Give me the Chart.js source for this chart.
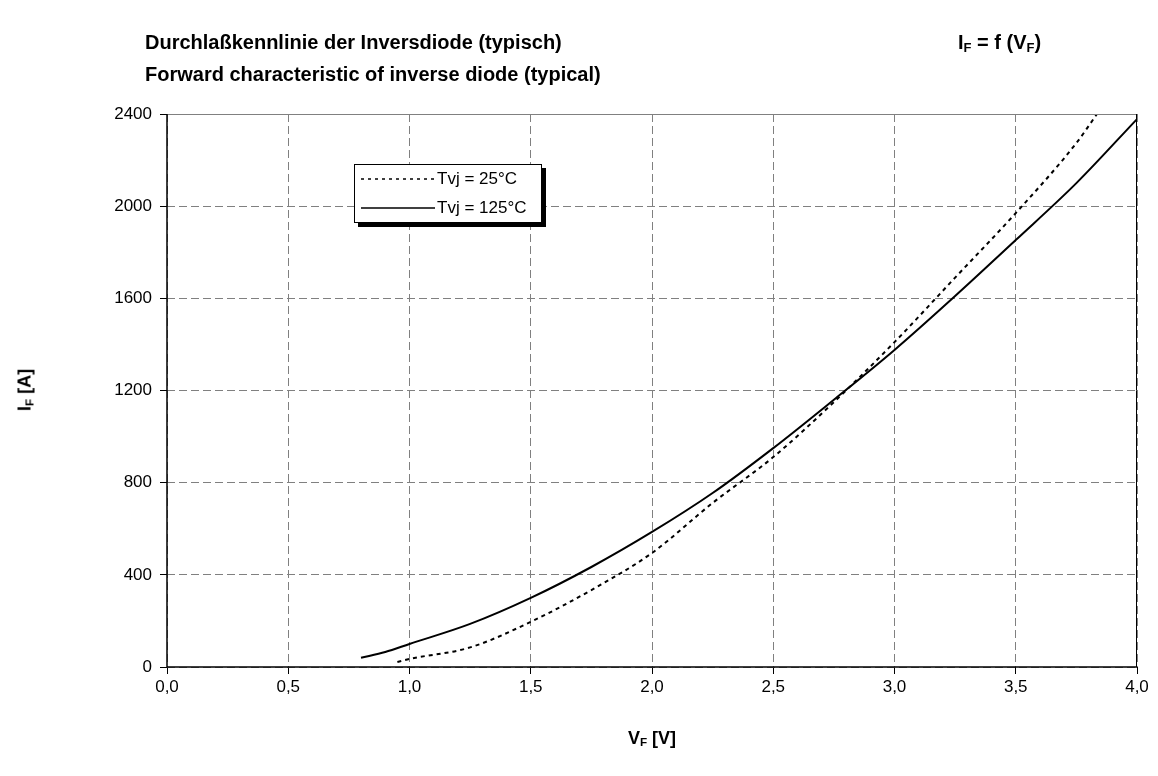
<!DOCTYPE html>
<html>
<head>
<meta charset="utf-8">
<script src="https://cdn.jsdelivr.net/npm/chart.js@4"></script>
<style>
  html, body { margin:0; padding:0; background:#fff; }
  #wrap { position:relative; width:1158px; height:776px; font-family:"Liberation Sans", Arial, sans-serif; }
  canvas { position:absolute; left:0; top:0; }
  .t { position:absolute; font-weight:bold; color:#000; white-space:nowrap; }
  sub { font-size:65%; vertical-align:-0.25em; line-height:0; }
  #legend { position:absolute; left:354px; top:164px; width:186px; height:57px; border:1px solid #000; background:#fff; box-shadow:4px 4px 0 #000; font-size:17px; }
  .row { position:absolute; left:6px; height:20px; display:flex; align-items:center; }
  .row svg { margin-right:2px; }
</style>
</head>
<body>
<div id="wrap">
  <canvas id="c" width="1158" height="776"></canvas>
  <div class="t" style="left:145px;top:31px;font-size:20px;">Durchlaßkennlinie der Inversdiode (typisch)</div>
  <div class="t" style="left:145px;top:63px;font-size:20px;">Forward characteristic of inverse diode (typical)</div>
  <div class="t" style="left:958px;top:31px;font-size:20px;">I<sub>F</sub> = f (V<sub>F</sub>)</div>
  <div class="t" style="left:25px;top:390px;font-size:18px;transform:translate(-50%,-50%) rotate(-90deg);">I<sub>F</sub> [A]</div>
  <div class="t" style="left:652px;top:738px;font-size:18px;transform:translate(-50%,-50%);">V<sub>F</sub> [V]</div>
  <div id="legend">
    <div class="row" style="top:4px;"><svg width="74" height="6"><line x1="0" y1="3" x2="74" y2="3" stroke="#000" stroke-width="1.5" stroke-dasharray="3,4"/></svg><span>Tvj = 25°C</span></div>
    <div class="row" style="top:33px;"><svg width="74" height="6"><line x1="0" y1="3" x2="74" y2="3" stroke="#000" stroke-width="1.5"/></svg><span>Tvj = 125°C</span></div>
  </div>
</div>
<script>
// Data
const v25 = [0.95, 1.0, 1.25, 1.5, 1.75, 2.0, 2.25, 2.5, 2.75, 3.0, 3.25, 3.5, 3.75, 3.835];
const i25 = [22, 35, 85, 196, 334, 495, 712, 911, 1150, 1410, 1690, 1970, 2274, 2400];
const v125 = [0.8, 0.9, 1.0, 1.25, 1.5, 1.75, 2.0, 2.25, 2.5, 2.75, 3.0, 3.25, 3.5, 3.75, 4.0];
const i125 = [40, 65, 100, 187, 300, 434, 586, 755, 950, 1160, 1376, 1610, 1853, 2100, 2378];
const xTicks = [0, 0.5, 1.0, 1.5, 2.0, 2.5, 3.0, 3.5, 4.0];
const yTicks = [0, 400, 800, 1200, 1600, 2000, 2400];

const toPts = (xs, ys) => xs.map((x, k) => ({x: x, y: ys[k]}));

const frame = {
  id: 'frame',
  afterDatasetsDraw(chart) {
    const a = chart.chartArea, ctx = chart.ctx;
    ctx.save();
    ctx.setLineDash([]);
    ctx.lineWidth = 1;
    ctx.strokeStyle = '#808080';
    ctx.beginPath(); ctx.moveTo(a.left, a.top + 0.5); ctx.lineTo(a.right, a.top + 0.5); ctx.stroke();
    ctx.strokeStyle = '#000';
    ctx.beginPath(); ctx.moveTo(a.right - 0.5, a.top); ctx.lineTo(a.right - 0.5, a.bottom); ctx.stroke();
    ctx.lineWidth = 1.5;
    ctx.beginPath(); ctx.moveTo(a.left, a.top); ctx.lineTo(a.left, a.bottom); ctx.lineTo(a.right, a.bottom); ctx.stroke();
    ctx.restore();
  }
};

new Chart(document.getElementById('c'), {
  type: 'scatter',
  data: {
    datasets: [
      { label: 'Tvj = 25°C', data: toPts(v25, i25), showLine: true, borderColor: '#000', borderWidth: 2, borderDash: [4, 4], pointRadius: 0, cubicInterpolationMode: 'monotone', fill: false },
      { label: 'Tvj = 125°C', data: toPts(v125, i125), showLine: true, borderColor: '#000', borderWidth: 2, pointRadius: 0, cubicInterpolationMode: 'monotone', fill: false }
    ]
  },
  options: {
    responsive: false,
    animation: false,
    devicePixelRatio: 1,
    layout: { padding: { left: 107, right: 21, top: 114, bottom: 69 } },
    plugins: { legend: { display: false }, tooltip: { enabled: false }, title: { display: false } },
    scales: {
      x: {
        type: 'linear', min: 0, max: 4,
        afterBuildTicks: s => { s.ticks = xTicks.map(v => ({value: v})); },
        afterFit: s => { s.height = 40; },
        ticks: { color: '#000', font: { family: 'Liberation Sans', size: 17 }, padding: 3, maxRotation: 0,
                 callback: v => v.toFixed(1).replace('.', ',') },
        grid: { color: '#808080', lineWidth: 1, tickColor: '#000', tickLength: 7, tickBorderDash: [] },
        border: { display: false, dash: [8, 4] }
      },
      y: {
        type: 'linear', min: 0, max: 2400,
        afterBuildTicks: s => { s.ticks = yTicks.map(v => ({value: v})); },
        afterFit: s => { s.width = 60; },
        ticks: { color: '#000', font: { family: 'Liberation Sans', size: 17 }, padding: 8,
                 callback: v => String(v) },
        grid: { color: '#808080', lineWidth: 1, tickColor: '#000', tickLength: 7, tickBorderDash: [] },
        border: { display: false, dash: [8, 4] }
      }
    }
  },
  plugins: [frame]
});
</script>
</body>
</html>
